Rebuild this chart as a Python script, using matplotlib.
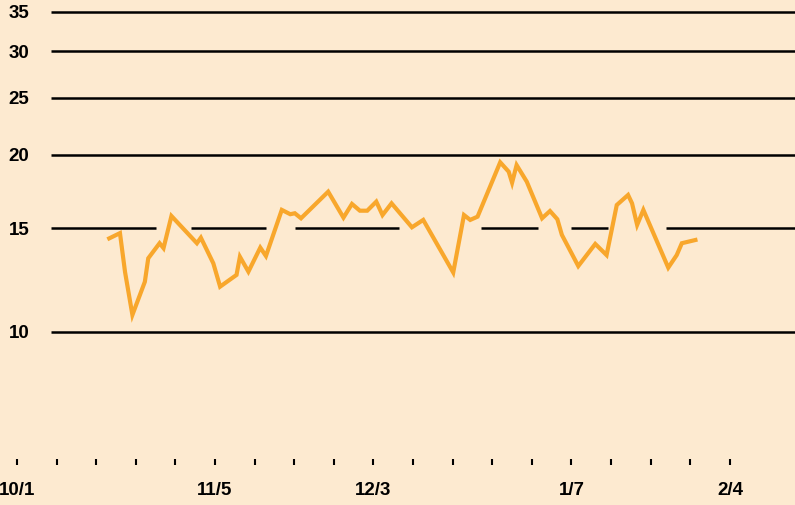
import numpy as np
import matplotlib
matplotlib.use("Agg")
import matplotlib.pyplot as plt
from matplotlib.ticker import NullLocator, NullFormatter

# series: days counted from Oct 1, value on a log scale
day = [16.3, 18.2, 19.1, 20.4, 22.6, 23.2, 25.2, 25.9, 27.3, 31.8,
       32.5, 34.7, 35.9, 38.8, 39.4, 40.9, 43.0, 44.0, 46.8, 48.3,
       49.1, 50.2, 55.0, 57.7, 59.2, 60.6, 61.9, 63.5, 64.6, 66.2,
       69.8, 71.8, 77.1, 79.0, 80.1, 81.4, 85.4, 86.9, 87.5, 88.3,
       90.1, 92.8, 94.2, 95.5, 96.3, 99.2, 102.2, 104.2, 106.0, 108.0,
       108.7, 109.6, 110.7, 115.1, 116.6, 117.5, 119.9]
value = [14.42, 14.72, 12.64, 10.69, 12.17, 13.34, 14.15, 13.88, 15.74, 14.15,
         14.46, 13.08, 11.94, 12.50, 13.42, 12.66, 13.91, 13.46, 16.12, 15.85,
         15.91, 15.60, 17.31, 15.64, 16.50, 16.07, 16.07, 16.65, 15.80, 16.54,
         15.06, 15.50, 12.62, 15.80, 15.50, 15.70, 19.42, 18.72, 17.93, 19.21,
         18.00, 15.60, 16.05, 15.54, 14.62, 12.94, 14.11, 13.51, 16.43, 17.09,
         16.54, 15.20, 16.12, 12.86, 13.51, 14.15, 14.33]

ref_levels = [10, 15, 20, 25, 30, 35]
# the 15 line is left open where the series crosses it
breaks_15 = [(24.6, 30.8), (44.0, 49.1), (67.5, 82.0), (92.1, 97.9), (104.5, 114.7)]

week_labels = {0: "10/1", 5: "11/5", 9: "12/3", 14: "1/7", 18: "2/4"}
n_weeks = 19

bg = "#FDEAD0"
orange = "#F8A72C"
plt.rcParams["font.family"] = ["Liberation Sans", "DejaVu Sans"]

fig = plt.figure(figsize=(7.95, 5.05), dpi=100, facecolor=bg)
ax = fig.add_axes([0, 43 / 505, 1, 462 / 505])
ax.set_facecolor(bg)
ax.set_yscale("log")
x0, x1 = -3.0, 137.5
ax.set_xlim(x0, x1)
ax.set_ylim(6.013, 36.64)
for s in ax.spines.values():
    s.set_visible(False)

line_start = 6.0
for lv in ref_levels:
    if lv == 15:
        edges = [line_start] + [v for b in breaks_15 for v in b] + [x1]
        for a, b in zip(edges[::2], edges[1::2]):
            ax.hlines(lv, a, b, color="black", lw=1.8, zorder=1)
    else:
        ax.hlines(lv, line_start, x1, color="black", lw=1.8, zorder=1)

ax.plot(day, value, color=orange, lw=3.0, solid_joinstyle="miter", zorder=3)

ax.yaxis.set_minor_locator(NullLocator())
ax.yaxis.set_minor_formatter(NullFormatter())
ax.set_yticks(ref_levels, [str(v) for v in ref_levels])
ax.tick_params(axis="y", length=0, pad=-13.5, labelsize=13.5)
for lab in ax.get_yticklabels():
    lab.set_ha("center")
    lab.set_fontweight("bold")

ticks = [7 * w for w in range(n_weeks)]
ax.set_xticks(ticks, [week_labels.get(w, "") for w in range(n_weeks)])
ax.tick_params(axis="x", direction="inout", length=4.1, width=1.5,
               pad=12.0, labelsize=13.5)
for lab in ax.get_xticklabels():
    lab.set_fontweight("bold")

fig.savefig("out.png", dpi=100, facecolor=bg)
